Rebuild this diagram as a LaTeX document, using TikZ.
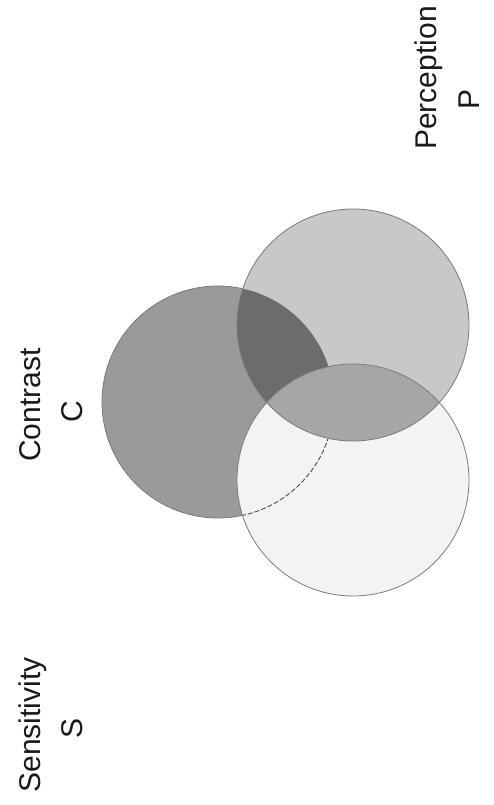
\documentclass[tikz,border=0pt]{standalone}
\usepackage{fontspec}
\setmainfont{Liberation Sans}
\usetikzlibrary{positioning}

\definecolor{cgray}{HTML}{9A9A9A}
\definecolor{pgray}{HTML}{C8C8C8}
\definecolor{sgray}{HTML}{F3F3F3}
\definecolor{cpgray}{HTML}{6C6C6C}
\definecolor{psgray}{HTML}{A6A6A6}
\definecolor{edgegray}{HTML}{7A7A7A}

\begin{document}
\begin{tikzpicture}[
    x=1pt, y=-1pt,
    ring/.style={draw=edgegray, line width=0.8pt},
    label/.style={rotate=90, anchor=base, inner sep=0pt, font=\fontsize{30}{36}\selectfont, text=black!90}
]
    \useasboundingbox (0,0) rectangle (494,805);

    % circle centres
    \coordinate (c) at (218,402);
    \coordinate (p) at (353,325);
    \coordinate (s) at (353,480);
    \def\rad{116}

    % Contrast
    \fill[cgray] (c) circle (\rad);
    \draw[ring] (c) circle (\rad);

    % Perception
    \fill[pgray] (p) circle (\rad);
    \begin{scope}
        \clip (c) circle (\rad);
        \fill[cpgray] (p) circle (\rad);
    \end{scope}

    % Sensitivity
    \fill[sgray] (s) circle (\rad);
    \begin{scope}
        \clip (s) circle (\rad);
        \draw[black!70, line width=0.9pt, dash pattern=on 5pt off 2pt] (c) circle (\rad);
    \end{scope}
    \begin{scope}
        \clip (p) circle (\rad);
        \fill[psgray] (s) circle (\rad);
    \end{scope}

    \draw[ring] (p) circle (\rad);
    \draw[ring] (s) circle (\rad);

    % labels
    \node[label] (contrast) at (40,405) {Contrast};
    \node[label] (cletter) at (82,412) {C};
    \node[label] (perception) at (436,78) {Perception};
    \node[label] (pletter) at (479,99) {P};
    \node[label] (sensitivity) at (40,725) {Sensitivity};
    \node[label] (sletter) at (82,728) {S};
\end{tikzpicture}
\end{document}
